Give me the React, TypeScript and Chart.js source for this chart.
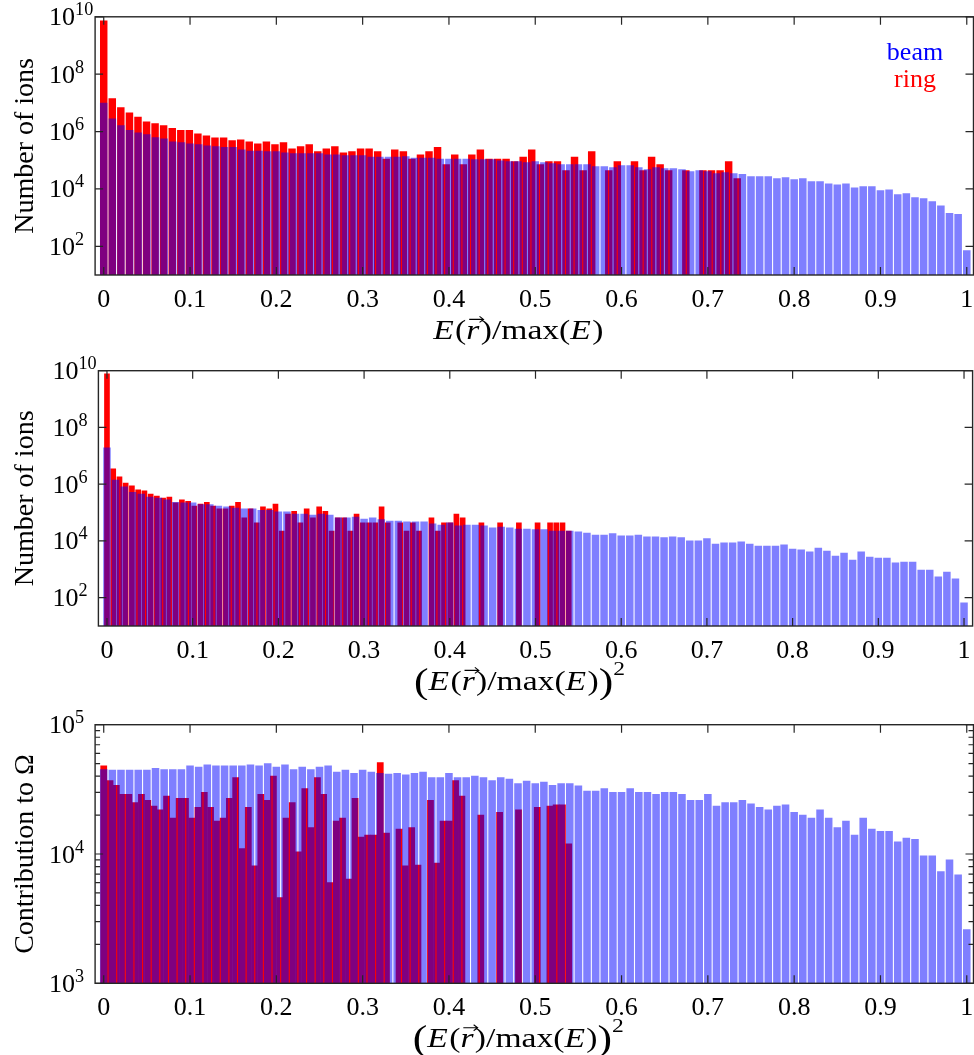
import React, { useEffect, useRef } from 'react';
import { Chart, registerables } from 'chart.js';

Chart.register(...registerables);

const FONT = '"Liberation Serif", "Times New Roman", serif';
const AXIS = '#262626';
const BEAM_COLOR = 'rgba(0,0,255,0.5)';
const RING_COLOR = '#ff0000';

// ---------- categories (bin centres) ----------
const beamBins = [
  0, 0.01, 0.02, 0.03, 0.04, 0.05, 0.06, 0.07, 0.08, 0.09,
  0.1, 0.11, 0.12, 0.13, 0.14, 0.15, 0.16, 0.17, 0.18, 0.19,
  0.2, 0.21, 0.22, 0.23, 0.24, 0.25, 0.26, 0.27, 0.28, 0.29,
  0.3, 0.31, 0.32, 0.33, 0.34, 0.35, 0.36, 0.37, 0.38, 0.39,
  0.4, 0.41, 0.42, 0.43, 0.44, 0.45, 0.46, 0.47, 0.48, 0.49,
  0.5, 0.51, 0.52, 0.53, 0.54, 0.55, 0.56, 0.57, 0.58, 0.59,
  0.6, 0.61, 0.62, 0.63, 0.64, 0.65, 0.66, 0.67, 0.68, 0.69,
  0.7, 0.71, 0.72, 0.73, 0.74, 0.75, 0.76, 0.77, 0.78, 0.79,
  0.8, 0.81, 0.82, 0.83, 0.84, 0.85, 0.86, 0.87, 0.88, 0.89,
  0.9, 0.91, 0.92, 0.93, 0.94, 0.95, 0.96, 0.97, 0.98, 0.99,
  1.0,
];

const ringBinsE = [
  0, 0.0099, 0.0198, 0.0298, 0.0397, 0.0496, 0.0595, 0.0694, 0.0794, 0.0893,
  0.0992, 0.1091, 0.119, 0.1289, 0.1389, 0.1488, 0.1587, 0.1686, 0.1785, 0.1885,
  0.1984, 0.2083, 0.2182, 0.2281, 0.2381, 0.248, 0.2579, 0.2678, 0.2777, 0.2876,
  0.2976, 0.3075, 0.3174, 0.3273, 0.3372, 0.3472, 0.3571, 0.367, 0.3769, 0.3868,
  0.3968, 0.4067, 0.4166, 0.4265, 0.4364, 0.4464, 0.4563, 0.4662, 0.4761, 0.486,
  0.4959, 0.5059, 0.5158, 0.5257, 0.5356, 0.5455, 0.5555, 0.5654, 0.5753, 0.5852,
  0.5951, 0.6051, 0.615, 0.6249, 0.6348, 0.6447, 0.6546, 0.6646, 0.6745, 0.6844,
  0.6943, 0.7042, 0.7142, 0.7241, 0.734,
];

const ringBinsE2 = [
  0, 0.0073, 0.0146, 0.0218, 0.0291, 0.0364, 0.0437, 0.051, 0.0582, 0.0655,
  0.0728, 0.0801, 0.0874, 0.0947, 0.1019, 0.1092, 0.1165, 0.1238, 0.1311, 0.1383,
  0.1456, 0.1529, 0.1602, 0.1675, 0.1747, 0.182, 0.1893, 0.1966, 0.2039, 0.2112,
  0.2184, 0.2257, 0.233, 0.2403, 0.2476, 0.2548, 0.2621, 0.2694, 0.2767, 0.284,
  0.2912, 0.2985, 0.3058, 0.3131, 0.3204, 0.3276, 0.3349, 0.3422, 0.3495, 0.3568,
  0.3641, 0.3713, 0.3786, 0.3859, 0.3932, 0.4005, 0.4077, 0.415, 0.4223, 0.4296,
  0.4369, 0.4441, 0.4514, 0.4587, 0.466, 0.4733, 0.4806, 0.4878, 0.4951, 0.5024,
  0.5097, 0.517, 0.5242, 0.5315, 0.5388,
];

// ---------- series values ----------
// Panel 1: number of ions vs E/max(E)
const beamCountE = [
  9.8e6, 2.8e6, 1.6e6, 1.1e6, 9.1e5, 7.8e5, 6.2e5, 5.6e5, 4.4e5, 4.1e5,
  3.7e5, 3.5e5, 3.2e5, 3.0e5, 2.8e5, 2.8e5, 2.3e5, 2.1e5, 2.1e5, 2.0e5,
  2.0e5, 1.8e5, 1.7e5, 1.7e5, 1.7e5, 1.7e5, 1.55e5, 1.55e5, 1.45e5, 1.45e5,
  1.45e5, 1.3e5, 1.3e5, 1.3e5, 1.3e5, 1.35e5, 1.2e5, 1.2e5, 1.2e5, 1.1e5,
  1.1e5, 1.1e5, 1.1e5, 1.05e5, 1.05e5, 1.05e5, 9.5e4, 8.9e4, 8.9e4, 8.3e4,
  8.9e4, 8.3e4, 7.6e4, 7.1e4, 7.1e4, 7.1e4, 7.1e4, 6.0e4, 6.0e4, 5.5e4,
  6.5e4, 6.5e4, 5.5e4, 4.7e4, 5.5e4, 5.1e4, 5.1e4, 4.7e4, 4.0e4, 4.4e4,
  4.0e4, 3.4e4, 3.7e4, 3.4e4, 3.2e4, 2.7e4, 2.7e4, 2.7e4, 2.3e4, 2.5e4,
  2.1e4, 2.3e4, 1.8e4, 1.8e4, 1.5e4, 1.4e4, 1.5e4, 1.1e4, 1.2e4, 1.2e4,
  8.7e3, 9.3e3, 6.3e3, 6.9e3, 5.0e3, 4.6e3, 3.6e3, 2.6e3, 1.4e3, 1.3e3,
  71,
];

const ringCountE = [
  7.2e9, 1.4e7, 6.8e6, 4.5e6, 3.2e6, 2.2e6, 1.9e6, 1.6e6, 1.3e6, 1.1e6,
  1.1e6, 8.3e5, 7.1e5, 6.0e5, 6.0e5, 4.8e5, 5.1e5, 4.4e5, 3.7e5, 4.4e5,
  3.5e5, 4.1e5, 2.5e5, 3.0e5, 3.5e5, 2.0e5, 2.5e5, 3.0e5, 1.8e5, 2.0e5,
  2.5e5, 2.5e5, 2.0e5, 1.1e5, 2.3e5, 2.0e5, 1.1e5, 1.55e5, 2.0e5, 2.8e5,
  7.1e4, 1.55e5, 7.1e4, 1.55e5, 2.3e5, 1.1e5, 1.1e5, 1.1e5, 8.9e4, 1.3e5,
  2.3e5, 7.1e4, 8.9e4, 8.9e4, 4.4e4, 1.3e5, 4.4e4, 2.0e5, null, 4.4e4,
  8.9e4, null, 8.9e4, 4.4e4, 1.3e5, 7.1e4, 4.4e4, null, 4.4e4, null,
  4.4e4, 4.4e4, 4.4e4, 8.9e4, 2.3e4,
];

// Panel 2: number of ions vs (E/max(E))^2
const beamCountE2 = [
  1.9e7, 1.4e6, 8.0e5, 5.2e5, 4.5e5, 3.5e5, 3.2e5, 2.8e5, 2.3e5, 2.2e5,
  2.2e5, 1.9e5, 1.9e5, 1.7e5, 1.6e5, 1.45e5, 1.35e5, 1.35e5, 1.2e5, 1.2e5,
  1.05e5, 1.05e5, 8.9e4, 8.9e4, 8.1e4, 8.9e4, 8.1e4, 6.5e4, 6.5e4, 6.9e4,
  5.9e4, 6.5e4, 5.7e4, 5.0e4, 5.0e4, 4.7e4, 4.7e4, 4.7e4, 4.0e4, 3.6e4,
  4.3e4, 3.4e4, 3.6e4, 3.6e4, 3.4e4, 2.9e4, 3.1e4, 2.9e4, 2.6e4, 2.6e4,
  2.5e4, 2.5e4, 2.2e4, 2.2e4, 2.2e4, 2.1e4, 1.9e4, 1.6e4, 1.6e4, 1.8e4,
  1.5e4, 1.5e4, 1.6e4, 1.4e4, 1.4e4, 1.3e4, 1.4e4, 1.3e4, 1.0e4, 1.0e4,
  1.2e4, 7.8e3, 8.5e3, 8.5e3, 9.2e3, 7.8e3, 6.6e3, 6.6e3, 6.6e3, 7.2e3,
  5.2e3, 4.8e3, 4.1e3, 5.6e3, 4.4e3, 2.9e3, 3.7e3, 2.1e3, 4.1e3, 2.7e3,
  2.5e3, 2.5e3, 1.7e3, 1.8e3, 1.8e3, 9.4e2, 9.4e2, 5.4e2, 8.0e2, 4.6e2,
  65,
];

const ringCountE2 = [
  7.8e9, 3.5e6, 1.8e6, 1.1e6, 8.7e5, 6.3e5, 5.8e5, 4.5e5, 3.8e5, 3.2e5,
  3.5e5, 2.2e5, 2.8e5, 2.5e5, 1.7e5, 2.0e5, 2.3e5, 1.7e5, 1.35e5, 1.35e5,
  1.7e5, 2.3e5, 6.5e4, 1.35e5, 4.3e4, 1.6e5, 1.35e5, 2.0e5, 2.2e4, 8.9e4,
  1.1e5, 4.3e4, 1.35e5, 6.5e4, 1.6e5, 1.1e5, 2.2e4, 6.5e4, 6.5e4, 2.2e4,
  8.9e4, 4.3e4, 4.3e4, 4.3e4, 1.6e5, 4.3e4, null, 4.3e4, 2.2e4, 4.3e4,
  2.2e4, null, 6.5e4, 2.2e4, 4.3e4, 4.3e4, 8.9e4, 6.5e4, null, null,
  4.3e4, null, null, 4.3e4, null, null, 4.3e4, null, null, 4.3e4,
  null, 4.3e4, 4.3e4, 4.3e4, 2.2e4,
];

// Panel 3: contribution to Omega vs (E/max(E))^2
const beamContrib = [
  4.5e4, 4.45e4, 4.45e4, 4.45e4, 4.45e4, 4.45e4, 4.6e4, 4.5e4, 4.5e4, 4.5e4,
  4.8e4, 4.7e4, 4.9e4, 4.8e4, 4.8e4, 4.8e4, 4.8e4, 4.9e4, 4.8e4, 5.0e4,
  4.7e4, 4.9e4, 4.5e4, 4.7e4, 4.5e4, 4.7e4, 4.8e4, 4.3e4, 4.45e4, 4.2e4,
  4.45e4, 4.3e4, 4.2e4, 4.15e4, 4.2e4, 4.1e4, 4.2e4, 4.3e4, 3.9e4, 3.9e4,
  4.2e4, 3.9e4, 3.9e4, 4.0e4, 3.9e4, 3.7e4, 3.9e4, 3.8e4, 3.5e4, 3.67e4,
  3.5e4, 3.6e4, 3.4e4, 3.5e4, 3.5e4, 3.36e4, 3.07e4, 3.07e4, 3.2e4, 3.0e4,
  3.0e4, 3.2e4, 3.0e4, 3.0e4, 2.9e4, 3.0e4, 3.0e4, 2.9e4, 2.6e4, 2.6e4,
  2.9e4, 2.35e4, 2.5e4, 2.5e4, 2.6e4, 2.44e4, 2.3e4, 2.2e4, 2.35e4, 2.4e4,
  2.1e4, 2.0e4, 1.9e4, 2.2e4, 1.9e4, 1.6e4, 1.8e4, 1.4e4, 1.9e4, 1.56e4,
  1.5e4, 1.5e4, 1.24e4, 1.33e4, 1.3e4, 9.7e3, 9.7e3, 7.3e3, 9.0e3, 6.9e3,
  2.6e3,
];

const ringContrib = [
  4.8e4, 3.7e4, 3.4e4, 2.9e4, 2.9e4, 2.5e4, 2.9e4, 2.6e4, 2.35e4, 2.2e4,
  2.8e4, 1.9e4, 2.7e4, 2.7e4, 1.9e4, 2.3e4, 3.0e4, 2.3e4, 1.8e4, 1.9e4,
  2.7e4, 3.9e4, 1.1e4, 2.3e4, 8.1e3, 2.9e4, 2.6e4, 4.0e4, 4.6e3, 1.9e4,
  2.5e4, 1.04e4, 3.2e4, 1.6e4, 3.9e4, 2.9e4, 6.0e3, 1.8e4, 1.9e4, 6.4e3,
  2.7e4, 1.35e4, 1.4e4, 1.4e4, 5.1e4, 1.45e4, null, 1.56e4, 8.1e3, 1.6e4,
  8.2e3, null, 2.6e4, 8.5e3, 1.8e4, 1.8e4, 3.7e4, 2.8e4, null, null,
  2.0e4, null, null, 2.1e4, null, null, 2.2e4, null, null, 2.3e4,
  null, 2.35e4, 2.4e4, 2.4e4, 1.2e4,
];

// ---------- ticks ----------
const xTickValues = [0, 0.1, 0.2, 0.3, 0.4, 0.5, 0.6, 0.7, 0.8, 0.9, 1];
const xTickLabels = ['0', '0.1', '0.2', '0.3', '0.4', '0.5', '0.6', '0.7', '0.8', '0.9', '1'];
const yTickCounts = [1e2, 1e4, 1e6, 1e8, 1e10];
const yTickCountsExp = ['2', '4', '6', '8', '10'];
const yTickContrib = [1e3, 1e4, 1e5];
const yTickContribExp = ['3', '4', '5'];
const yMinorContrib = [2e3, 3e3, 4e3, 5e3, 6e3, 7e3, 8e3, 9e3, 2e4, 3e4, 4e4, 5e4, 6e4, 7e4, 8e4, 9e4];

type Seg = { t: string; it?: boolean; sc?: number; dy?: number; vec?: boolean };

const titleE: Seg[] = [
  { t: 'E', it: true }, { t: '(' }, { t: 'r', it: true, vec: true }, { t: ')' }, { t: '/' },
  { t: 'max' }, { t: '(' }, { t: 'E', it: true }, { t: ')' },
];
const titleE2: Seg[] = [
  { t: '(', sc: 1.3, dy: 3 }, ...titleE, { t: ')', sc: 1.3, dy: 3 }, { t: '2', sc: 0.7, dy: -15 },
];

const TICK_SIZE = 26;
const TITLE_SIZE = 28;
const MATH_STRETCH = 1.2;
const TITLE_SHIFT = -16;

function drawRich(
  ctx: CanvasRenderingContext2D,
  segs: Seg[],
  x: number,
  y: number,
  size: number,
  align: 'left' | 'center',
  stretch = 1,
) {
  const widths = segs.map((s) => {
    ctx.font = `${s.it ? 'italic ' : ''}${size * (s.sc ?? 1)}px ${FONT}`;
    return (ctx.measureText(s.t).width + (s.it ? size * 0.04 : 0)) * stretch;
  });
  const total = widths.reduce((a, b) => a + b, 0);
  let cx = align === 'center' ? x - total / 2 : x;
  ctx.textAlign = 'left';
  ctx.textBaseline = 'alphabetic';
  segs.forEach((s, i) => {
    const sz = size * (s.sc ?? 1);
    ctx.font = `${s.it ? 'italic ' : ''}${sz}px ${FONT}`;
    ctx.save();
    ctx.translate(cx, y + (s.dy ?? 0));
    ctx.scale(stretch, 1);
    ctx.fillText(s.t, 0, 0);
    ctx.restore();
    if (s.vec) {
      const ay = y - size * 0.7;
      const x0 = cx + widths[i] * 0.2;
      const x1 = cx + widths[i] + size * 0.1;
      ctx.save();
      ctx.lineWidth = 1.1;
      ctx.strokeStyle = ctx.fillStyle as string;
      ctx.beginPath();
      ctx.moveTo(x0, ay);
      ctx.lineTo(x1, ay);
      ctx.moveTo(x1 - 4, ay - 3);
      ctx.lineTo(x1, ay);
      ctx.lineTo(x1 - 4, ay + 3);
      ctx.stroke();
      ctx.restore();
    }
    cx += widths[i];
  });
}

interface PanelSpec {
  top: number;
  height: number;
  pad: { left: number; right: number; top: number; bottom: number };
  xMax: number;
  yMin: number;
  yMax: number;
  beamX: number[];
  beamY: (number | null)[];
  ringX: number[];
  ringY: (number | null)[];
  beamWidth: number;
  ringWidth: number;
  yTicks: number[];
  yExp: string[];
  yMinor: number[];
  yTitle: string;
  xTitle: Seg[];
  legend: boolean;
}

function makeDecor(spec: PanelSpec) {
  return {
    id: 'decor',
    afterDraw(chart: any) {
      const ctx: CanvasRenderingContext2D = chart.ctx;
      const a = chart.chartArea;
      const xs = chart.scales.x;
      const ys = chart.scales.y;
      ctx.save();
      ctx.strokeStyle = AXIS;
      ctx.lineWidth = 1.2;
      ctx.beginPath();
      xTickValues.forEach((v) => {
        const px = xs.getPixelForValue(v);
        ctx.moveTo(px, a.bottom);
        ctx.lineTo(px, a.bottom - 8);
        ctx.moveTo(px, a.top);
        ctx.lineTo(px, a.top + 8);
      });
      spec.yTicks.forEach((v) => {
        const py = ys.getPixelForValue(v);
        ctx.moveTo(a.left, py);
        ctx.lineTo(a.left + 8, py);
        ctx.moveTo(a.right, py);
        ctx.lineTo(a.right - 8, py);
      });
      spec.yMinor.forEach((v) => {
        const py = ys.getPixelForValue(v);
        ctx.moveTo(a.left, py);
        ctx.lineTo(a.left + 5, py);
        ctx.moveTo(a.right, py);
        ctx.lineTo(a.right - 5, py);
      });
      ctx.stroke();
      ctx.lineWidth = 1.4;
      ctx.strokeRect(a.left, a.top, a.right - a.left, a.bottom - a.top);

      // x tick labels
      ctx.fillStyle = '#000';
      ctx.font = `${TICK_SIZE}px ${FONT}`;
      ctx.textAlign = 'center';
      ctx.textBaseline = 'alphabetic';
      xTickValues.forEach((v, i) => {
        ctx.fillText(xTickLabels[i], xs.getPixelForValue(v), a.bottom + 32);
      });

      // y tick labels (10^n)
      spec.yTicks.forEach((v, i) => {
        const py = ys.getPixelForValue(v);
        drawRich(ctx, [{ t: '10' }, { t: spec.yExp[i], sc: 0.7, dy: -10 }], a.left - 46, py + 8.5, TICK_SIZE, 'left');
      });

      // x title
      drawRich(ctx, spec.xTitle, (a.left + a.right) / 2 + TITLE_SHIFT, a.bottom + 64, TITLE_SIZE, 'center', MATH_STRETCH);

      // y title
      ctx.save();
      ctx.translate(33, (a.top + a.bottom) / 2);
      ctx.rotate(-Math.PI / 2);
      ctx.font = `${TITLE_SIZE}px ${FONT}`;
      ctx.textAlign = 'center';
      ctx.textBaseline = 'alphabetic';
      ctx.fillText(spec.yTitle, 0, 0);
      ctx.restore();

      if (spec.legend) {
        ctx.font = `${TICK_SIZE}px ${FONT}`;
        ctx.textAlign = 'center';
        ctx.fillStyle = '#0000ff';
        ctx.fillText('beam', 915, 60);
        ctx.fillStyle = '#ff0000';
        ctx.fillText('ring', 915, 87);
      }
      ctx.restore();
    },
  };
}

function toPoints(xs: number[], ys: (number | null)[]) {
  const pts: { x: number; y: number }[] = [];
  xs.forEach((x, i) => {
    const y = ys[i];
    if (y !== null && y !== undefined) pts.push({ x, y });
  });
  return pts;
}

function Panel({ spec }: { spec: PanelSpec }) {
  const ref = useRef<HTMLCanvasElement | null>(null);
  useEffect(() => {
    if (!ref.current) return;
    const chart = new Chart(ref.current, {
      type: 'bar',
      data: {
        datasets: [
          {
            label: 'beam',
            data: toPoints(spec.beamX, spec.beamY) as any,
            backgroundColor: BEAM_COLOR,
            borderWidth: 0,
            barThickness: spec.beamWidth,
            grouped: false,
            order: 0,
          } as any,
          {
            label: 'ring',
            data: toPoints(spec.ringX, spec.ringY) as any,
            backgroundColor: RING_COLOR,
            borderWidth: 0,
            barThickness: spec.ringWidth,
            grouped: false,
            order: 1,
          } as any,
        ],
      },
      options: {
        animation: false,
        responsive: false,
        maintainAspectRatio: false,
        events: [],
        layout: { padding: spec.pad },
        plugins: { legend: { display: false }, tooltip: { enabled: false } },
        scales: {
          x: { type: 'linear', min: -0.01, max: spec.xMax, display: false, offset: false },
          y: { type: 'logarithmic', min: spec.yMin, max: spec.yMax, display: false },
        },
      } as any,
      plugins: [makeDecor(spec)],
    });
    return () => chart.destroy();
  }, [spec]);
  return (
    <canvas
      ref={ref}
      width={974}
      height={spec.height}
      style={{ position: 'absolute', left: 0, top: spec.top, width: 974, height: spec.height, display: 'block' }}
    />
  );
}

const panels: PanelSpec[] = [
  {
    top: 0,
    height: 350,
    pad: { left: 95.1, right: 0.5, top: 16.8, bottom: 75 },
    xMax: 1.0078,
    yMin: 10,
    yMax: 1e10,
    beamX: beamBins,
    beamY: beamCountE,
    ringX: ringBinsE,
    ringY: ringCountE,
    beamWidth: 6.9,
    ringWidth: 6.8,
    yTicks: yTickCounts,
    yExp: yTickCountsExp,
    yMinor: [],
    yTitle: 'Number of ions',
    xTitle: titleE,
    legend: true,
  },
  {
    top: 350,
    height: 350,
    pad: { left: 98.4, right: 1.4, top: 20.7, bottom: 74 },
    xMax: 1.01,
    yMin: 10,
    yMax: 1e10,
    beamX: beamBins,
    beamY: beamCountE2,
    ringX: ringBinsE2,
    ringY: ringCountE2,
    beamWidth: 6.85,
    ringWidth: 5.0,
    yTicks: yTickCounts,
    yExp: yTickCountsExp,
    yMinor: [],
    yTitle: 'Number of ions',
    xTitle: titleE2,
    legend: false,
  },
  {
    top: 700,
    height: 355,
    pad: { left: 95.1, right: 0.5, top: 24.7, bottom: 71.7 },
    xMax: 1.0078,
    yMin: 1e3,
    yMax: 1e5,
    beamX: beamBins,
    beamY: beamContrib,
    ringX: ringBinsE2,
    ringY: ringContrib,
    beamWidth: 6.9,
    ringWidth: 6.1,
    yTicks: yTickContrib,
    yExp: yTickContribExp,
    yMinor: yMinorContrib,
    yTitle: 'Contribution to Ω',
    xTitle: titleE2,
    legend: false,
  },
];

export default function App() {
  return (
    <div style={{ position: 'absolute', left: 0, top: 0, width: 974, height: 1055, background: '#fff', overflow: 'hidden' }}>
      {panels.map((p, i) => (
        <Panel key={i} spec={p} />
      ))}
    </div>
  );
}
